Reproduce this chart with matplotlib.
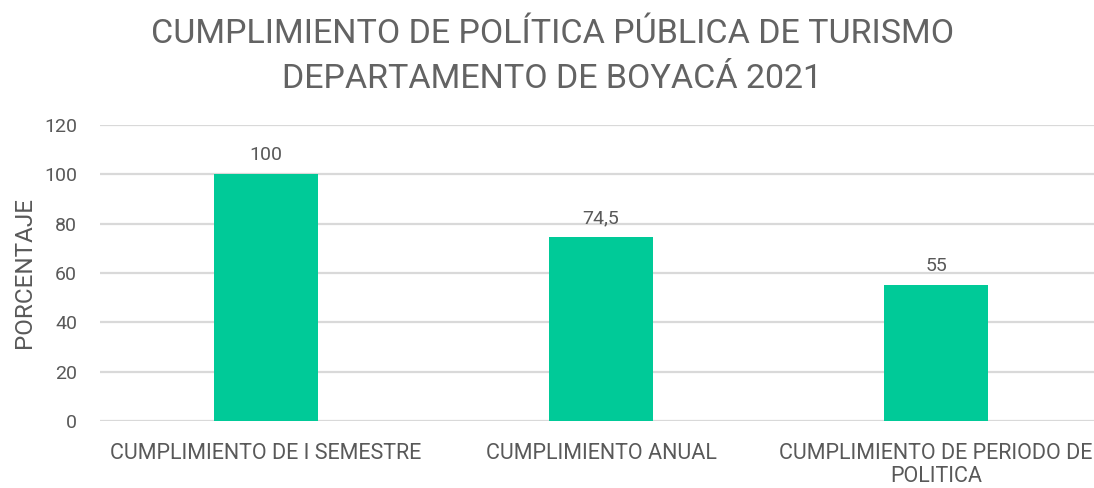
import matplotlib
matplotlib.use("Agg")
import matplotlib.pyplot as plt

categories = ["CUMPLIMIENTO DE I SEMESTRE", "CUMPLIMIENTO ANUAL", "CUMPLIMIENTO DE PERIODO DE\nPOLITICA"]
values = [100, 74.5, 55]
value_labels = ["100", "74,5", "55"]
yticks = [0, 20, 40, 60, 80, 100, 120]
title_lines = ["CUMPLIMIENTO DE POLÍTICA PÚBLICA DE TURISMO", "DEPARTAMENTO DE BOYACÁ 2021"]

plt.rcParams['font.family'] = ['Roboto', 'DejaVu Sans']
gray = "#595959"

fig = plt.figure(figsize=(10.94, 4.88), dpi=100)
ax = fig.add_axes([0.0914, 0.1373, 0.9086, 0.6066])
x = list(range(len(categories)))
ax.bar(x, values, width=0.31, color="#00CA98", zorder=3)
for xi, v, lab in zip(x, values, value_labels):
    ax.text(xi, v + 5.7, lab, ha="center", va="baseline", fontsize=14, color=gray)

ax.set_xlim(-0.4955, 2.4716)
ax.set_ylim(0, 120)
ax.set_yticks(yticks)
ax.set_yticklabels([str(t) for t in yticks], fontsize=14, color=gray)
ax.set_xticks(x)
ax.set_xticklabels(categories, fontsize=15.5, color=gray, linespacing=1.1)
ax.tick_params(axis="y", length=0, pad=16.5)
ax.tick_params(axis="x", length=0, pad=16)
ax.yaxis.grid(True, color="#D9D9D9", linewidth=1.6, zorder=0)
for s in ax.spines.values():
    s.set_visible(False)
ax.set_ylabel("PORCENTAJE", fontsize=17.5, color=gray, labelpad=6)

fig.text(0.505, 1 - 43 / 488, title_lines[0], ha="center", va="baseline", fontsize=24.5, color="#636363")
fig.text(0.505, 1 - 88 / 488, title_lines[1], ha="center", va="baseline", fontsize=24.5, color="#636363")

fig.savefig("out.png", dpi=100)
